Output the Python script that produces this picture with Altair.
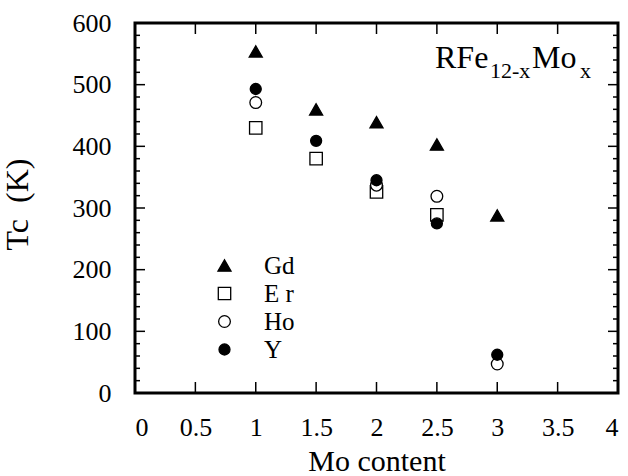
import altair as alt
import pandas as pd

# ---- data ----
mo = [1, 1.5, 2, 2.5, 3]
gd = [554, 460, 439, 403, 288]
er_x = [1, 1.5, 2, 2.5]
er = [430, 380, 326, 289]
ho_x = [1, 2, 2.5, 3]
ho = [471, 337, 319, 47]
y_vals = [493, 409, 345, 275, 62]

series = ["Gd", "Er", "Ho", "Y"]
x_tick_vals = [0, 0.5, 1, 1.5, 2, 2.5, 3, 3.5, 4]
y_tick_vals = [0, 100, 200, 300, 400, 500, 600]
y_minor_vals = [v for v in range(20, 600, 20) if v % 100 != 0]
x_inner_ticks = [0.5, 1, 1.5, 2, 2.5, 3, 3.5]
y_inner_major = [100, 200, 300, 400, 500]

rows = []
for xv, v in zip(mo, gd):
    rows.append({"x": xv, "tc": v, "R": "Gd"})
for xv, v in zip(er_x, er):
    rows.append({"x": xv, "tc": v, "R": "Er"})
for xv, v in zip(ho_x, ho):
    rows.append({"x": xv, "tc": v, "R": "Ho"})
for xv, v in zip(mo, y_vals):
    rows.append({"x": xv, "tc": v, "R": "Y"})
df = pd.DataFrame(rows)

FONT = "Liberation Serif"
W, H = 483, 370
LBL = 26

xscale = alt.Scale(domain=[0, 4], nice=False, zero=False)
yscale = alt.Scale(domain=[0, 600], nice=False)

x_axis = alt.Axis(values=x_tick_vals, format="~g", title="Mo content",
                  labelFont=FONT, labelFontSize=LBL, labelColor="black",
                  labelPadding=21, titleY=77, titleBaseline="alphabetic",
                  titleFont=FONT, titleFontSize=30, titleColor="black",
                  titleFontWeight="normal")
y_axis = alt.Axis(values=y_tick_vals, title="Tc\u00a0\u00a0(K)", labelPadding=24,
                  labelFont=FONT, labelFontSize=LBL, labelColor="black",
                  titleAngle=-90, titleX=-118, titleY=181,
                  titleAlign="center", titleBaseline="middle",
                  titleFont=FONT, titleFontSize=32, titleColor="black",
                  titleFontWeight="normal")

points = alt.Chart(df).mark_point(
    filled=True, stroke="black", strokeWidth=1.3, opacity=1
).encode(
    x=alt.X("x:Q", scale=xscale, axis=x_axis),
    y=alt.Y("tc:Q", scale=yscale, axis=y_axis),
    shape=alt.Shape("R:N", scale=alt.Scale(domain=series,
                    range=["triangle-up", "square", "circle", "circle"]),
                    legend=alt.Legend(title=None, orient="none", legendX=77, legendY=230,
                                      labelFont=FONT, labelFontSize=25, labelColor="black",
                                      labelOffset=27, rowPadding=2, padding=0,
                                      symbolStrokeWidth=1.3,
                                      labelExpr="datum.label == 'Er' ? 'E r' : datum.label")),
    fill=alt.Fill("R:N", scale=alt.Scale(domain=series,
                  range=["black", "white", "white", "black"]), title=None),
    size=alt.Size("R:N", scale=alt.Scale(domain=series, range=[170, 121, 100, 100]),
                  title=None),
)

# inward ticks drawn with rules
tick_x = pd.DataFrame({"x": x_inner_ticks})
tick_ymaj = pd.DataFrame({"tc": y_inner_major})
tick_ymin = pd.DataFrame({"tc": y_minor_vals})

rule_style = dict(color="black", strokeWidth=1.5)

bottom_ticks = alt.Chart(tick_x).mark_rule(**rule_style).encode(
    x=alt.X("x:Q", scale=xscale, axis=x_axis), y=alt.value(H), y2=alt.value(H - 11))
top_ticks = alt.Chart(tick_x).mark_rule(**rule_style).encode(
    x=alt.X("x:Q", scale=xscale, axis=x_axis), y=alt.value(0), y2=alt.value(11))
left_major = alt.Chart(tick_ymaj).mark_rule(**rule_style).encode(
    y=alt.Y("tc:Q", scale=yscale, axis=y_axis), x=alt.value(0), x2=alt.value(10))
left_minor = alt.Chart(tick_ymin).mark_rule(**rule_style).encode(
    y=alt.Y("tc:Q", scale=yscale, axis=y_axis), x=alt.value(0), x2=alt.value(5))
right_major = alt.Chart(tick_ymaj).mark_rule(**rule_style).encode(
    y=alt.Y("tc:Q", scale=yscale, axis=y_axis), x=alt.value(W), x2=alt.value(W - 10))
right_minor = alt.Chart(tick_ymin).mark_rule(**rule_style).encode(
    y=alt.Y("tc:Q", scale=yscale, axis=y_axis), x=alt.value(W), x2=alt.value(W - 5))

one = pd.DataFrame({"a": [0]})


def txt(s, x, y, size):
    return alt.Chart(one).mark_text(
        text=s, font=FONT, fontSize=size, color="black", align="left",
        baseline="alphabetic"
    ).encode(x=alt.value(x), y=alt.value(y))


label = (txt("RFe", 300, 45, 32) + txt("12-x", 355, 55, 22) +
         txt("Mo", 397, 45, 32) + txt("x", 445, 55, 22))

chart = alt.layer(
    points, bottom_ticks, top_ticks, left_major, left_minor, right_major, right_minor,
    label
).properties(
    width=W, height=H,
    padding={"left": 135, "top": 23, "right": 10, "bottom": 83},
    autosize=alt.AutoSizeParams(type="none"),
    background="white",
).configure(
    font=FONT
).configure_view(
    stroke="black", strokeWidth=3
).configure_axis(
    labelFont=FONT, labelFontSize=LBL, labelColor="black",
    titleFont=FONT, titleColor="black", titleFontWeight="normal",
    ticks=False, tickSize=0, domain=False, grid=False,
)

chart.save("out.html", embed_options={"renderer": "svg", "actions": False})
